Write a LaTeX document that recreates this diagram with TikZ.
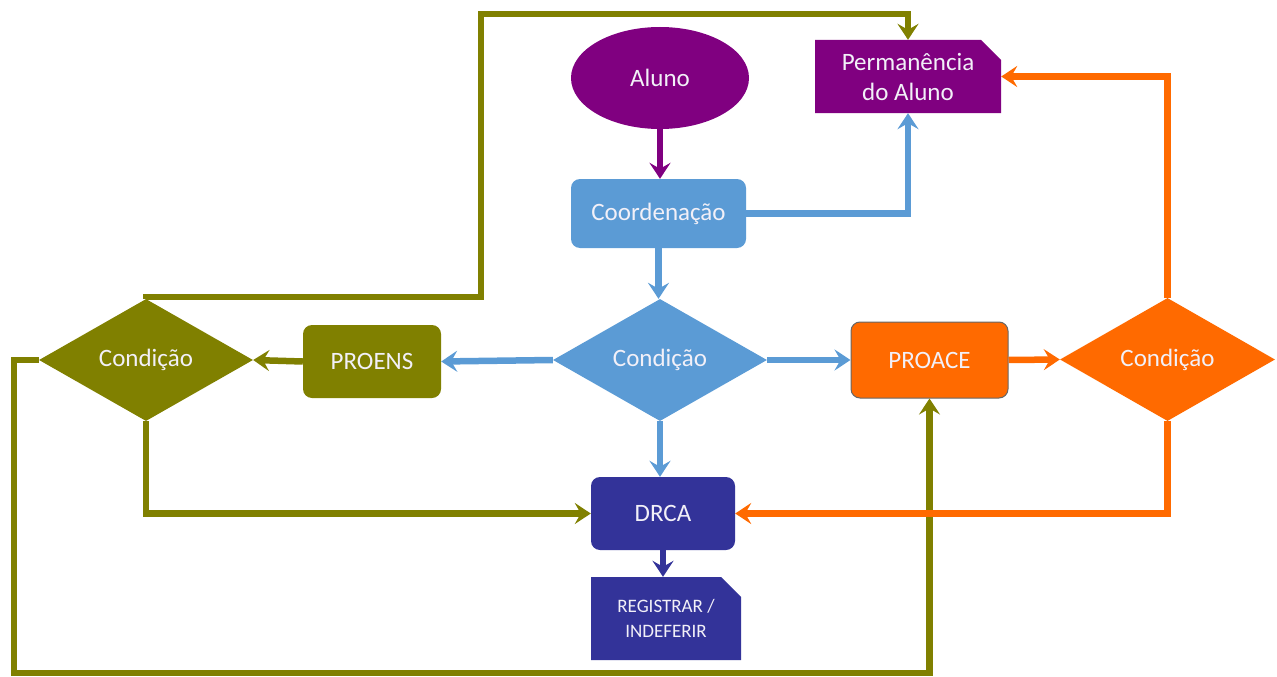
\documentclass[tikz,border=0pt]{standalone}
\usepackage{fontspec}
\setmainfont{Carlito}
\usetikzlibrary{shapes.geometric,shapes.misc,arrows.meta}
\definecolor{cpurple}{HTML}{800080}
\definecolor{cblue}{HTML}{5B9BD5}
\definecolor{colive}{HTML}{808000}
\definecolor{corange}{HTML}{FF6A00}
\definecolor{cnavy}{HTML}{333399}
\definecolor{ctext}{HTML}{F2F0F8}
\tikzset{
  base/.style={inner sep=0pt, text=ctext, font=\fontsize{25}{30}\selectfont, align=center},
  rbox/.style={base, rectangle, rounded corners=9pt, minimum width=#1},
  docbox/.style={base, chamfered rectangle, chamfered rectangle corners=north east, chamfered rectangle xsep=10pt, chamfered rectangle ysep=10pt},
  cond/.style={base, diamond, minimum width=214pt, minimum height=122pt, shape aspect=1.75},
  conn/.style={line width=6.5pt, -{Stealth[length=16pt,width=21pt,inset=6pt]}},
}
\begin{document}
\begin{tikzpicture}[x=1pt,y=-1pt]
\useasboundingbox (0,0) rectangle (1277,677);
% nodes
\node[base, ellipse, fill=cpurple, minimum width=178pt, minimum height=102pt] (aluno) at (660,78) {Aluno};
\node[docbox, fill=cpurple, minimum width=186pt, minimum height=73pt] (perm) at (908,76.5) {Permanência\\do Aluno};
\node[rbox=175pt, fill=cblue, minimum height=69pt] (coord) at (658.5,213.5) {Coordenação};
\node[cond, fill=cblue] (cdia) at (660,360) {Condição};
\node[rbox=138pt, fill=colive, minimum height=73pt] (proens) at (372,361.5) {PROENS};
\node[cond, fill=colive] (ldia) at (146,360) {Condição};
\node[rbox=157pt, fill=corange, draw=gray!80!black, line width=1pt, minimum height=76pt] (proace) at (929.5,360) {PROACE};
\node[cond, fill=corange, minimum width=215pt, minimum height=123pt] (rdia) at (1167.5,359.5) {Condição};
\node[rbox=144pt, fill=cnavy, minimum height=73pt] (drca) at (663,513.5) {DRCA};
\node[docbox, fill=cnavy, minimum width=150pt, minimum height=83pt, font=\fontsize{19}{25}\selectfont] (reg) at (666,618.5) {REGISTRAR /\\INDEFERIR};
% connectors
\draw[conn, cpurple] (aluno.south) -- (aluno.south |- coord.north);
\draw[conn, cblue] (coord.east) -| (perm.south);
\draw[conn, cblue] (coord.south) -- (coord.south |- cdia.north);
\draw[conn, cblue] (cdia.west) -- (proens.east);
\draw[conn, cblue] (cdia.east) -- (proace.west);
\draw[conn, cblue] (cdia.south) -- (cdia.south |- drca.north);
\draw[conn, colive] (proens.west) -- (ldia.east);
\draw[conn, colive] (ldia.north) -- (146,297) -| (481,14) -| (perm.north);
\draw[conn, colive] (ldia.west) -| (14,673) -| (proace.south);
\draw[conn, colive] (ldia.south) |- (drca.west);
\draw[conn, corange] (proace.east) -- (rdia.west);
\draw[conn, corange] (rdia.north) |- (perm.east);
\draw[conn, corange] (rdia.south) |- (drca.east);
\draw[conn, cnavy] (drca.south) -- (drca.south |- reg.north);
\end{tikzpicture}
\end{document}
